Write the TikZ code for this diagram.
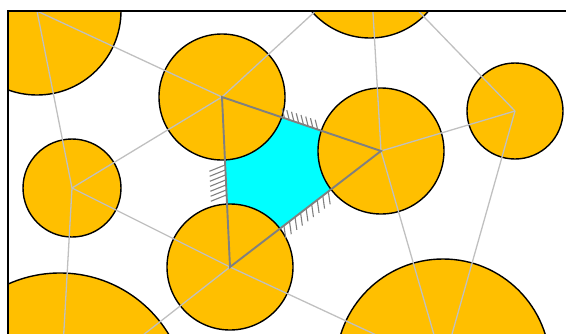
\documentclass[tikz,border=0pt]{standalone}
\usetikzlibrary{calc}
\definecolor{amber}{HTML}{FFBF00}
\definecolor{aqua}{HTML}{00FFFF}
\definecolor{lightedge}{HTML}{C0C0C0}
\definecolor{triedge}{HTML}{808080}
\begin{document}
\begin{tikzpicture}[x=1pt,y=-1pt,
  disk/.style={circle, draw=black, line width=1.4pt, fill=amber, inner sep=0pt, outer sep=0pt, minimum size=#1pt},
  thinedge/.style={draw=lightedge, line width=1.3pt},
  triline/.style={draw=triedge, line width=1.9pt},
  hatchline/.style={draw=triedge, line width=1.1pt}]
\useasboundingbox (0,0) rectangle (566,333);
\begin{scope}
\clip (8,11) rectangle (580,345);
\coordinate (cUM) at (222,97);
\coordinate (cMR) at (381,151);
\coordinate (cLM) at (230,267);
\fill[aqua] (cUM) -- (cMR) -- (cLM) -- cycle;
\node[disk=168] (TL)  at (37,11)   {};
\node[disk=154] (Top) at (370,-39) {};
\node[disk=126] (UM)  at (cUM)     {};
\node[disk=96]  (R)   at (515,111) {};
\node[disk=126] (MR)  at (cMR)     {};
\node[disk=98]  (L)   at (72,188)  {};
\node[disk=126] (LM)  at (cLM)     {};
\node[disk=254] (BL)  at (60,400)  {};
\node[disk=214] (BR)  at (443,366) {};
% Delaunay edges
\draw[thinedge] (TL.center) -- (UM.center);
\draw[thinedge] (TL.center) -- (L.center);
\draw[thinedge] (UM.center) -- (L.center);
\draw[thinedge] (UM.center) -- (Top.center);
\draw[thinedge] (Top.center) -- (MR.center);
\draw[thinedge] (Top.center) -- (R.center);
\draw[thinedge] (MR.center) -- (R.center);
\draw[thinedge] (R.center) -- (BR.center);
\draw[thinedge] (MR.center) -- (BR.center);
\draw[thinedge] (LM.center) -- (BR.center);
\draw[thinedge] (LM.center) -- (BL.center);
\draw[thinedge] (L.center) -- (LM.center);
\draw[thinedge] (L.center) -- (BL.center);
% triangle
\draw[triline] (UM.center) -- (MR.center) -- (LM.center) -- cycle;
% hatches
\foreach \d in {66,71,...,101}
  \draw[hatchline] ($(UM.center)!\d pt!(MR.center)$) -- ++(104:10pt);
\foreach \d in {68,73,...,98}
  \draw[hatchline] ($(UM.center)!\d pt!(LM.center)$) -- ++(202:17pt);
\foreach \d in {68,75,...,124}
  \draw[hatchline] ($(LM.center)!\d pt!(MR.center)$) -- ++(-82:13pt);
\end{scope}
\draw[line width=2pt] (8,345) -- (8,11) -- (580,11);
\end{tikzpicture}
\end{document}
